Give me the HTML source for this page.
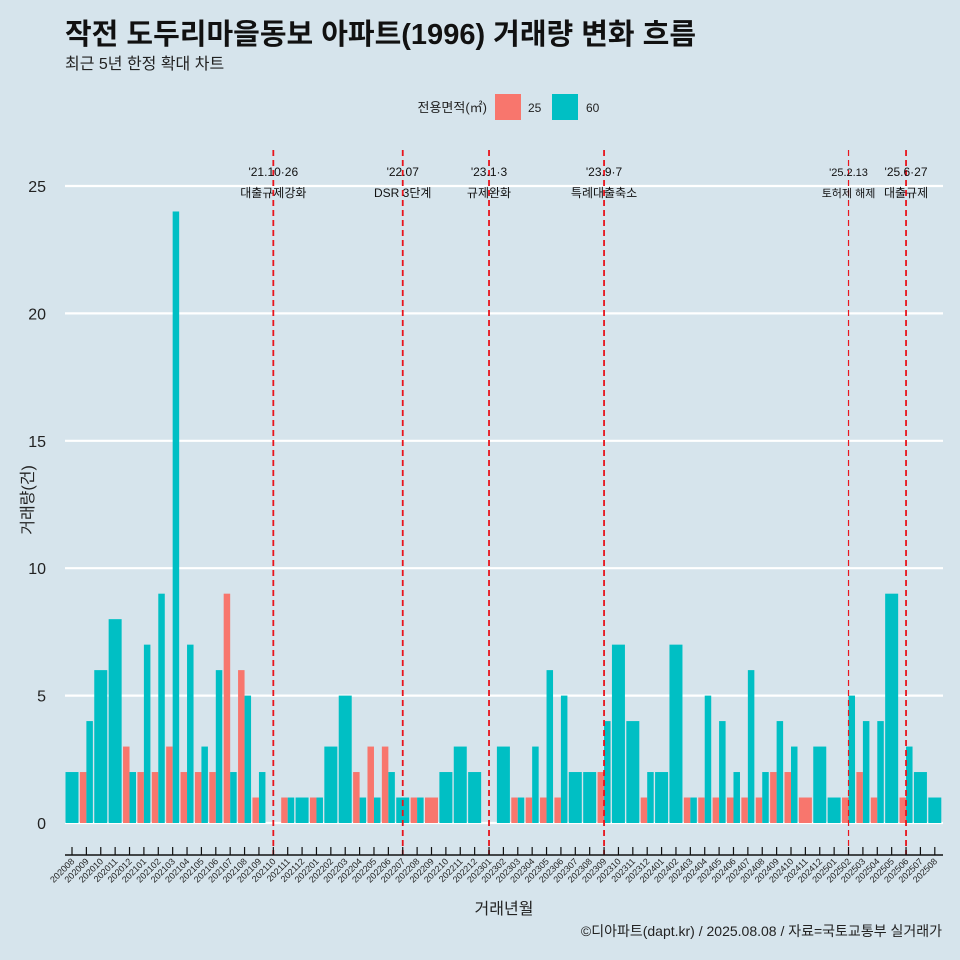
<!DOCTYPE html>
<html><head><meta charset="utf-8"><style>
body{margin:0;background:#d6e4ec;}
svg{display:block;font-family:"Liberation Sans","Noto Sans CJK KR",sans-serif;}
</style></head><body>
<svg id="c" width="960" height="960">
<rect width="960" height="960" fill="#d6e4ec"/>
<text x="65" y="44" font-size="29" font-weight="bold" fill="#111">작전 도두리마을동보 아파트(1996) 거래량 변화 흐름</text>
<text x="65" y="69" font-size="16" fill="#222">최근 5년 한정 확대 차트</text>
<g>
<text x="487" y="112" font-size="13" text-anchor="end" fill="#222">전용면적(㎡)</text>
<rect x="495" y="94" width="26" height="26" fill="#f8766d"/>
<text x="528" y="112" font-size="12" fill="#222">25</text>
<rect x="552" y="94" width="26" height="26" fill="#00bfc4"/>
<text x="586" y="112" font-size="12" fill="#222">60</text>
</g>
<g id="grid"></g><g id="bars"></g><g id="events"></g><g id="axes"></g>
<text transform="translate(33,500) rotate(-90)" font-size="16" text-anchor="middle" fill="#222">거래량(건)</text>
<text x="504" y="914" font-size="16" text-anchor="middle" fill="#222">거래년월</text>
<text x="942" y="936" font-size="14" text-anchor="end" fill="#222">©디아파트(dapt.kr) / 2025.08.08 / 자료=국토교통부 실거래가</text>
</svg>
<script>
const months=["202008","202009","202010","202011","202012","202101","202102","202103","202104","202105","202106","202107","202108","202109","202110","202111","202112","202201","202202","202203","202204","202205","202206","202207","202208","202209","202210","202211","202212","202301","202302","202303","202304","202305","202306","202307","202308","202309","202310","202311","202312","202401","202402","202403","202404","202405","202406","202407","202408","202409","202410","202411","202412","202501","202502","202503","202504","202505","202506","202507","202508"];
const s25=[null,2,null,null,3,2,2,3,2,2,2,9,6,1,null,1,null,1,null,null,2,3,3,null,1,1,null,null,null,null,null,1,1,1,1,null,null,2,null,null,1,null,null,1,1,1,1,1,1,2,2,1,null,null,1,2,1,null,1,null,null];
const s60=[2,4,6,8,2,7,9,24,7,3,6,2,5,2,null,1,1,1,3,5,1,1,2,1,1,null,2,3,2,null,3,1,3,6,5,2,2,4,7,4,2,2,7,1,5,4,2,6,2,4,3,null,3,1,5,4,4,9,3,2,1];
const yTicks=[0,5,10,15,20,25];
const eventMonths=["202110","202207","202301","202309","202502","202506"];
const eventLine1=["'21.10·26","'22.07","'23.1·3","'23.9·7","'25.2.13","'25.6·27"];
const eventLine2=["대출규제강화","DSR 3단계","규제완화","특례대출축소","토허제 해제","대출규제"];
const NS="http://www.w3.org/2000/svg";
const X0=72,STEP=14.38,Y0=823,PPU=25.48,BW=13;
const xs=i=>X0+i*STEP, ys=v=>Y0-v*PPU;
function mk(p,t,a){const e=document.createElementNS(NS,t);for(const k in a)e.setAttribute(k,a[k]);document.getElementById(p).appendChild(e);return e;}
yTicks.forEach(t=>{
 const l=mk('grid','line',{x1:65,x2:943,y1:ys(t),y2:ys(t),stroke:'#fff','stroke-width':2.2});
 
 
 const tx=mk('grid','text',{x:46,y:ys(t)+6,'font-size':16,'text-anchor':'end',fill:'#222'});tx.textContent=t;
 
 
});
months.forEach((m,i)=>{
 const a=s25[i],b=s60[i],cx=xs(i);
 if(a!=null&&b!=null){
  const r1=mk('bars','rect',{x:cx-BW/2,y:ys(a),width:BW/2,height:a*PPU,fill:'#f8766d'});
  
  
  const r2=mk('bars','rect',{x:cx,y:ys(b),width:BW/2,height:b*PPU,fill:'#00bfc4'});
  
  
 }else if(a!=null||b!=null){
  const v=a!=null?a:b;
  const r=mk('bars','rect',{x:cx-BW/2,y:ys(v),width:BW,height:v*PPU,fill:a!=null?'#f8766d':'#00bfc4'});
  
  
 }
 const tk=mk('axes','line',{x1:cx,x2:cx,y1:847,y2:855,stroke:'#111','stroke-width':1.2});
 
 
 const lb=mk('axes','text',{x:cx+3,y:862,'font-size':9,'text-anchor':'end',fill:'#222',transform:`rotate(-45 ${cx+3} 862)`});
 lb.textContent=m;
 
 
});
const ax=mk('axes','line',{x1:65,x2:943,y1:855,y2:855,stroke:'#111','stroke-width':1.5});


eventMonths.forEach((m,k)=>{
 const x=xs(months.indexOf(m));
 const thin=m==="202502";
 const l=mk('events','line',{x1:x,x2:x,y1:150,y2:855,stroke:'#e8141c','stroke-width':thin?1.2:1.8,'stroke-dasharray':'6,4'});
 
 
 const fs=thin?11:12;
 const t1=mk('events','text',{x:x,y:176,'font-size':fs,'text-anchor':'middle',fill:'#111'});t1.textContent=eventLine1[k];
 
 
 const t2=mk('events','text',{x:x,y:197,'font-size':fs,'text-anchor':'middle',fill:'#111'});t2.textContent=eventLine2[k];
 
 
});
</script>
</body></html>
